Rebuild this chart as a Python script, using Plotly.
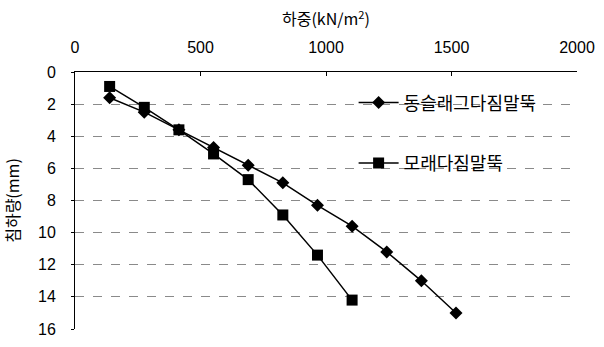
import plotly.graph_objects as go

load_slag = [138, 276, 414, 552, 690, 828, 966, 1104, 1242, 1380, 1518]
settle_slag = [1.6, 2.5, 3.6, 4.7, 5.8, 6.9, 8.3, 9.6, 11.2, 13.0, 15.0]
load_sand = [138, 276, 414, 552, 690, 828, 966, 1104]
settle_sand = [0.9, 2.2, 3.6, 5.1, 6.7, 8.9, 11.4, 14.2]
name_slag = "동슬래그다짐말뚝"
name_sand = "모래다짐말뚝"
x_title = "하중(kN/m<sup>2</sup>)"
y_title = "침하량(mm)"

fig = go.Figure()
fig.add_trace(go.Scatter(
    x=load_slag, y=settle_slag, name=name_slag, mode="lines+markers",
    line=dict(color="black", width=1.5),
    marker=dict(symbol="diamond", size=10, color="black"),
    legend="legend"))
fig.add_trace(go.Scatter(
    x=load_sand, y=settle_sand, name=name_sand, mode="lines+markers",
    line=dict(color="black", width=1.5),
    marker=dict(symbol="square", size=11, color="black"),
    legend="legend2"))

cjk = "Noto Sans CJK KR, Liberation Sans, sans-serif"
fig.update_layout(
    width=604, height=347,
    margin=dict(l=73, r=19, t=72, b=9),
    paper_bgcolor="white", plot_bgcolor="white",
    font=dict(family="Liberation Sans, Arial, sans-serif", size=16, color="black"),
    showlegend=True,
    legend=dict(x=0.555, y=0.88, xanchor="left", yanchor="middle",
                bgcolor="rgba(0,0,0,0)", font=dict(family=cjk, size=18),
                itemwidth=40),
    legend2=dict(x=0.555, y=0.645, xanchor="left", yanchor="middle",
                 bgcolor="rgba(0,0,0,0)", font=dict(family=cjk, size=18),
                 itemwidth=40),
)
fig.update_xaxes(
    range=[0, 2000], side="top", dtick=500, tick0=0,
    showline=True, linecolor="black", linewidth=1, mirror=False,
    ticks="inside", ticklen=4, tickcolor="black",
    ticklabelstandoff=12,
    showgrid=False, zeroline=False,
    title=dict(text=x_title, font=dict(family=cjk, size=16), standoff=8),
)
fig.update_yaxes(
    range=[16, 0], dtick=2, tick0=0,
    showline=True, linecolor="black", linewidth=1,
    ticks="outside", ticklen=3, tickcolor="black",
    ticklabelstandoff=12,
    showgrid=True, gridcolor="#8a8a8a", griddash="dash", gridwidth=1,
    zeroline=False,
    title=dict(text=y_title, font=dict(family=cjk, size=16), standoff=18),
)

fig.write_html("out.html")
